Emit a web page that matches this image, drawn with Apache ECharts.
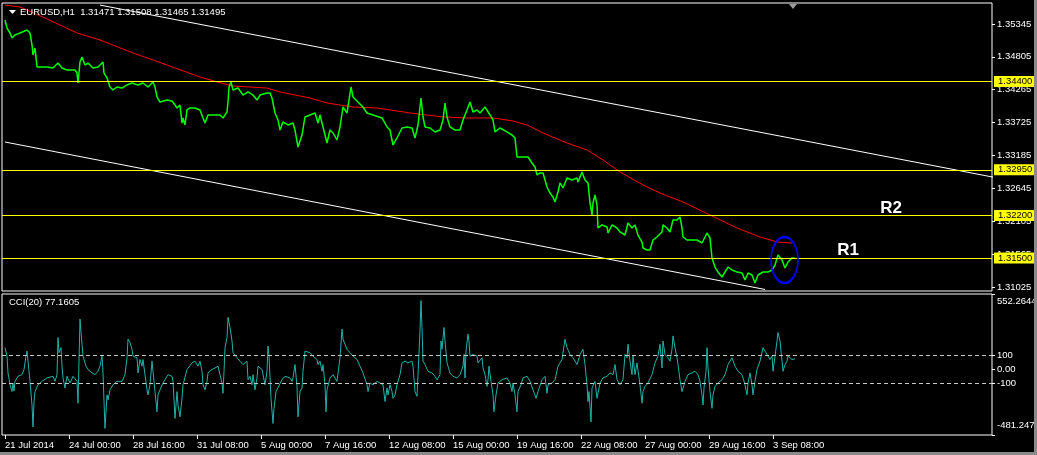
<!DOCTYPE html>
<html><head><meta charset="utf-8">
<script src="https://cdn.jsdelivr.net/npm/echarts@6/dist/echarts.min.js"></script>
<style>html,body{margin:0;padding:0;background:#000;}#c{width:1037px;height:455px;}</style>
</head><body><div id="c"></div><script>
// ---------- data ----------
const symbolName = 'EURUSD,H1';
const ohlc = [1.31471, 1.31508, 1.31465, 1.31495];
const cciName = 'CCI(20)';
const cciLast = 77.1605;
const timeLabels = ['21 Jul 2014','24 Jul 00:00','28 Jul 16:00','31 Jul 08:00','5 Aug 00:00','7 Aug 16:00','12 Aug 08:00','15 Aug 00:00','19 Aug 16:00','22 Aug 08:00','27 Aug 00:00','29 Aug 16:00','3 Sep 08:00'];
const barsPerTimeLabel = 64;
const priceTicks = [1.31025,1.31565,1.32105,1.32645,1.33185,1.33725,1.34265,1.34805,1.35345];
const priceRange = [1.30958, 1.35690];
const barRange = [-3, 987];
const cciTicks = [-481.2478,-100,0,100,552.2644];
const cciLevels = [100,-100];
const levels = [1.34400,1.32950,1.32200,1.31500];
const upperTrend = [[95,1.35656],[995,1.32807]];
const lowerTrend = [[0,1.33406],[760,1.30983]];
const highlight = [779.5,1.31467];
const notes = [{name:'R2', value:[886,1.32322]},{name:'R1', value:[843,1.31632]}];
// [bar index, close]
const close = [[0,1.35411],[2,1.35279],[5,1.35197],[7,1.35115],[10,1.35164],[15,1.35197],[22,1.35246],[25,1.35197],[27,1.35000],[28,1.34836],[30,1.34951],[32,1.34638],[35,1.34638],[42,1.34638],[48,1.34622],[53,1.34704],[57,1.34622],[62,1.34589],[70,1.34589],[72,1.34540],[73,1.34376],[75,1.34721],[77,1.34803],[80,1.34671],[83,1.34704],[88,1.34622],[93,1.34638],[98,1.34721],[99,1.34540],[102,1.34458],[105,1.34310],[108,1.34261],[112,1.34310],[117,1.34293],[122,1.34343],[127,1.34376],[133,1.34343],[138,1.34376],[143,1.34310],[148,1.34392],[150,1.34310],[152,1.34146],[155,1.34063],[162,1.34096],[167,1.34080],[170,1.34014],[172,1.33965],[175,1.34014],[177,1.33718],[178,1.33801],[180,1.33686],[182,1.33932],[185,1.33965],[190,1.33965],[195,1.33932],[198,1.33801],[200,1.33718],[203,1.33850],[208,1.33850],[215,1.33850],[218,1.33801],[222,1.33899],[223,1.34063],[224,1.34310],[226,1.34392],[228,1.34261],[233,1.34293],[238,1.34178],[243,1.34228],[248,1.34178],[252,1.34096],[255,1.34178],[262,1.34211],[265,1.34211],[267,1.34129],[270,1.33883],[273,1.33768],[275,1.33603],[278,1.33735],[283,1.33686],[288,1.33718],[290,1.33603],[293,1.33324],[297,1.33521],[300,1.33817],[305,1.33850],[310,1.33883],[313,1.33718],[315,1.33850],[318,1.33653],[322,1.33390],[325,1.33603],[328,1.33554],[332,1.33439],[335,1.33653],[338,1.33981],[342,1.33883],[344,1.34096],[346,1.34310],[348,1.34146],[353,1.34063],[358,1.33981],[362,1.33883],[368,1.33850],[377,1.33801],[382,1.33653],[385,1.33603],[388,1.33357],[392,1.33472],[397,1.33636],[402,1.33653],[407,1.33636],[410,1.33472],[413,1.33686],[416,1.34129],[418,1.33817],[420,1.33653],[425,1.33636],[430,1.33571],[435,1.33603],[438,1.33768],[440,1.34047],[442,1.33817],[445,1.33653],[450,1.33603],[455,1.33603],[458,1.33768],[462,1.33932],[465,1.34063],[468,1.33899],[472,1.33932],[475,1.33883],[480,1.33981],[485,1.33850],[488,1.33768],[490,1.33571],[495,1.33636],[502,1.33571],[507,1.33521],[510,1.33472],[512,1.33160],[515,1.33160],[523,1.33160],[527,1.33061],[530,1.32996],[532,1.32864],[535,1.32897],[538,1.32897],[542,1.32667],[545,1.32568],[548,1.32503],[550,1.32420],[553,1.32585],[555,1.32733],[558,1.32651],[562,1.32815],[567,1.32782],[572,1.32815],[573,1.32749],[577,1.32913],[580,1.32782],[583,1.32733],[585,1.32404],[587,1.32207],[588,1.32404],[590,1.32536],[592,1.32371],[593,1.31993],[597,1.32043],[602,1.32010],[603,1.31911],[607,1.32043],[612,1.31993],[615,1.31928],[620,1.31878],[623,1.32075],[627,1.31993],[630,1.32043],[633,1.31878],[637,1.31763],[638,1.31665],[642,1.31632],[645,1.31632],[648,1.31796],[652,1.31845],[657,1.31928],[658,1.32043],[662,1.31993],[665,1.31928],[668,1.32125],[672,1.32125],[675,1.32174],[677,1.31993],[678,1.31845],[682,1.31796],[687,1.31796],[692,1.31796],[697,1.31747],[698,1.31763],[702,1.31911],[705,1.31829],[707,1.31500],[710,1.31352],[713,1.31270],[717,1.31188],[720,1.31270],[723,1.31352],[727,1.31303],[732,1.31270],[737,1.31254],[740,1.31139],[743,1.31254],[747,1.31221],[750,1.31090],[753,1.31221],[758,1.31270],[763,1.31270],[767,1.31303],[770,1.31385],[773,1.31550],[777,1.31467],[780,1.31336],[783,1.31434],[787,1.31500],[790,1.31495]];
// [bar index, moving average]
const ma = [[0,1.35657],[15,1.35624],[40,1.35444],[72,1.35197],[95,1.35082],[128,1.34869],[162,1.34671],[195,1.34474],[212,1.34392],[228,1.34326],[262,1.34293],[275,1.34228],[305,1.34129],[322,1.34047],[348,1.33981],[372,1.33965],[405,1.33883],[438,1.33817],[462,1.33801],[488,1.33801],[508,1.33751],[522,1.33686],[538,1.33554],[562,1.33390],[582,1.33275],[598,1.33111],[615,1.32913],[638,1.32700],[655,1.32568],[678,1.32420],[705,1.32207],[732,1.31993],[755,1.31845],[772,1.31763],[787,1.31747]];
// [bar index, CCI]
const cci = [[0,159],[2,97],[3,-26],[5,-113],[7,-163],[8,-100],[9,-158],[10,-88],[13,-51],[17,-39],[19,-1],[21,97],[22,134],[23,60],[25,-88],[27,-261],[28,-422],[29,-236],[30,-163],[33,-113],[37,-88],[42,-63],[48,-51],[50,-88],[52,-39],[53,233],[54,122],[56,159],[57,23],[58,-63],[60,-137],[62,-51],[63,-39],[65,-100],[68,-51],[72,-88],[73,-248],[74,60],[75,369],[77,184],[78,97],[81,23],[83,-1],[87,-26],[90,-39],[93,-14],[95,23],[97,97],[98,-26],[99,-236],[100,-433],[102,-187],[103,-224],[105,-150],[108,-113],[112,-88],[117,-88],[120,-39],[122,85],[123,221],[125,196],[127,147],[128,97],[130,110],[132,85],[133,-26],[135,72],[137,23],[138,72],[140,-39],[142,-150],[143,-187],[145,-113],[147,60],[148,-14],[150,-163],[152,-311],[153,-187],[155,-150],[158,-100],[163,-39],[167,-51],[168,-88],[170,-360],[172,-163],[173,-261],[175,-348],[177,-212],[178,-113],[182,-1],[187,47],[190,60],[193,23],[195,60],[197,-14],[198,-113],[200,-150],[202,-88],[203,-26],[207,-1],[210,10],[213,23],[215,-39],[217,-100],[218,-175],[219,-14],[220,159],[222,233],[223,381],[225,307],[227,208],[228,122],[232,85],[235,60],[238,35],[240,23],[242,60],[243,-76],[245,-51],[247,-113],[248,-39],[250,-150],[252,-63],[253,23],[257,-1],[260,-113],[262,-14],[263,171],[264,97],[266,-212],[268,-397],[269,-286],[271,-163],[273,-150],[277,-76],[280,-51],[285,-63],[287,-88],[288,-63],[290,35],[292,-125],[293,-348],[295,-163],[297,-137],[298,-14],[300,134],[302,134],[305,122],[308,97],[312,72],[313,35],[315,60],[317,-14],[318,35],[320,-113],[321,-311],[322,-150],[325,-63],[328,-39],[332,-88],[335,85],[337,295],[338,221],[340,184],[342,147],[345,122],[348,97],[352,72],[355,23],[358,-26],[362,-113],[363,-163],[365,-100],[368,-113],[372,-88],[375,-100],[378,-113],[380,-236],[382,-137],[383,-187],[385,-113],[387,-163],[388,-212],[390,-187],[392,-113],[395,-39],[397,47],[400,60],[403,47],[407,60],[408,23],[410,-163],[412,-198],[413,-39],[415,282],[416,504],[417,307],[418,60],[420,35],[423,-14],[427,-26],[430,-51],[432,-76],[433,-63],[435,-39],[436,208],[437,147],[439,307],[440,208],[442,47],[445,-26],[448,-51],[452,-63],[455,-39],[458,23],[459,109],[460,-63],[461,134],[463,258],[464,208],[465,97],[468,109],[472,97],[473,47],[477,85],[478,10],[480,-39],[482,-125],[483,-76],[484,23],[486,-88],[488,-187],[489,-311],[491,-187],[493,-100],[497,-76],[502,-63],[505,-100],[507,-163],[508,-100],[510,-187],[512,-311],[513,-163],[516,-113],[518,-63],[522,-51],[525,-88],[528,-150],[531,-212],[533,-163],[537,-76],[540,-51],[542,-175],[543,-113],[547,-100],[550,-76],[553,23],[557,72],[560,221],[562,159],[565,109],[568,85],[572,35],[575,109],[578,147],[580,35],[582,-113],[583,-236],[584,-163],[586,-385],[587,-137],[590,-88],[592,-212],[595,-100],[598,-63],[602,-51],[605,-26],[608,-39],[610,35],[612,-76],[615,-113],[618,-76],[620,109],[622,85],[623,184],[625,60],[627,-39],[628,97],[630,-39],[632,47],[633,60],[635,-113],[637,-248],[638,-163],[640,-125],[643,-100],[647,-39],[650,47],[653,97],[655,184],[657,10],[658,208],[660,109],[662,122],[663,85],[665,60],[667,147],[668,245],[670,159],[672,85],[673,35],[675,-76],[677,-163],[678,-137],[680,-88],[683,-39],[687,-26],[690,-14],[693,-39],[695,-88],[697,-187],[698,-261],[699,-137],[701,-14],[702,159],[703,10],[705,-163],[707,-286],[708,-187],[710,-125],[713,-100],[717,-76],[720,-39],[723,35],[727,85],[728,97],[730,23],[733,-14],[737,-39],[738,-26],[740,-113],[742,-187],[743,-100],[745,-26],[747,-113],[748,-187],[750,-88],[752,-1],[755,60],[758,159],[762,109],[765,72],[767,97],[768,-14],[770,-26],[772,208],[773,270],[775,208],[777,60],[778,-14],[780,35],[782,60],[783,97],[785,85],[787,72],[790,77]];

// ---------- chart ----------
const FONT = 'Liberation Sans';
const FS = 9.5;
const chart = echarts.init(document.getElementById('c'), null, {renderer:'canvas'});
const timeTickValues = timeLabels.map((_, i) => i * barsPerTimeLabel);

const option = {
  backgroundColor: '#000',
  animation: false,
  textStyle: {fontFamily: FONT},
  grid: [
    {left: 2, top: 3, width: 990, height: 288, show: true, backgroundColor: '#000', borderColor: '#fff', borderWidth: 1, outerBoundsMode: 'none', containLabel: false},
    {left: 2, top: 294, width: 990, height: 141, show: true, backgroundColor: '#000', borderColor: '#fff', borderWidth: 1, outerBoundsMode: 'none', containLabel: false}
  ],
  xAxis: [
    {gridIndex: 0, type: 'value', min: barRange[0], max: barRange[1], show: false, axisLine: {onZero: false}},
    {gridIndex: 1, type: 'value', min: barRange[0], max: barRange[1], position: 'bottom',
      axisLine: {show: false, onZero: false}, splitLine: {show: false},
      axisTick: {show: true, length: 4, customValues: timeTickValues, lineStyle: {color: '#fff'}},
      axisLabel: {show: true, customValues: timeTickValues, color: '#fff', fontSize: FS, fontFamily: FONT, align: 'left', margin: 5,
        formatter: v => timeLabels[Math.round(v / barsPerTimeLabel)] || ''}}
  ],
  yAxis: [
    {gridIndex: 0, type: 'value', position: 'right', min: priceRange[0], max: priceRange[1],
      axisLine: {show: false, onZero: false}, splitLine: {show: false},
      axisTick: {show: true, length: 3, customValues: priceTicks, lineStyle: {color: '#fff'}},
      axisLabel: {show: true, customValues: priceTicks, color: '#fff', fontSize: FS, fontFamily: FONT, margin: 5,
        formatter: v => v.toFixed(5)}},
    {gridIndex: 1, type: 'value', position: 'right', min: cciTicks[0], max: cciTicks[cciTicks.length - 1],
      axisLine: {show: false, onZero: false}, splitLine: {show: false},
      axisTick: {show: true, length: 3, customValues: cciTicks, lineStyle: {color: '#fff'}},
      axisLabel: {show: true, customValues: cciTicks, color: '#fff', fontSize: FS, fontFamily: FONT, margin: 5,
        verticalAlignMaxLabel: 'top', verticalAlignMinLabel: 'bottom',
        formatter: v => {
          if (v === 0) return '0.00';
          if (Math.abs(v) === 100) return String(v);
          if (v < 0) return '{lo|' + v.toFixed(4) + '}';
          return '{hi|' + v.toFixed(4) + '}';
        },
        rich: {lo: {fontSize: FS, fontFamily: FONT, color: '#fff', padding: [0, 0, 5, 0]},
               hi: {fontSize: FS, fontFamily: FONT, color: '#fff', padding: [2, 0, 0, 0]}}}}
  ],
  series: [
    {name: 'MA', type: 'line', xAxisIndex: 0, yAxisIndex: 0, data: ma, showSymbol: false, symbol: 'none',
      lineStyle: {color: '#ff0000', width: 1}, z: 2, silent: true},
    {name: 'upperTrend', type: 'line', xAxisIndex: 0, yAxisIndex: 0, data: upperTrend, symbol: 'none',
      lineStyle: {color: '#ffffff', width: 1}, z: 2, silent: true},
    {name: 'lowerTrend', type: 'line', xAxisIndex: 0, yAxisIndex: 0, data: lowerTrend, symbol: 'none',
      lineStyle: {color: '#ffffff', width: 1}, z: 2, silent: true},
    {name: 'close', type: 'line', xAxisIndex: 0, yAxisIndex: 0, data: close, symbol: 'none',
      lineStyle: {color: '#00ff00', width: 1.5}, z: 3, silent: true,
      markLine: {silent: true, symbol: 'none', animation: false, precision: 5,
        lineStyle: {color: '#ffff00', type: 'solid', width: 1},
        label: {show: true, position: 'end', distance: 2, formatter: p => Number(p.value).toFixed(5),
          backgroundColor: '#ffff00', color: '#000', fontSize: FS, fontFamily: FONT, padding: [1, 4, 0, 4]},
        emphasis: {disabled: true},
        data: levels.map(v => ({yAxis: v}))},
      markPoint: {silent: true, symbol: 'circle', symbolSize: [27, 46], animation: false,
        itemStyle: {color: 'rgba(0,0,0,0)', borderColor: '#0000ff', borderWidth: 2},
        label: {show: false},
        data: [{coord: highlight}]}},
    {name: 'notes', type: 'scatter', xAxisIndex: 0, yAxisIndex: 0, data: notes, symbolSize: 1,
      itemStyle: {color: 'rgba(0,0,0,0)', opacity: 1}, silent: true, z: 5,
      label: {show: true, position: 'inside', formatter: '{b}', color: '#ffffff', opacity: 1, fontSize: 17, fontWeight: 'bold', fontFamily: FONT}},
    {name: 'CCI', type: 'line', xAxisIndex: 1, yAxisIndex: 1, data: cci, symbol: 'none',
      lineStyle: {color: '#20b2aa', width: 1}, z: 3, silent: true,
      markLine: {silent: true, symbol: 'none', animation: false,
        lineStyle: {color: '#c8c8c8', type: [4, 3], width: 1},
        label: {show: false}, emphasis: {disabled: true},
        data: cciLevels.map(v => ({yAxis: v}))}}
  ],
  graphic: [
    {type: 'polygon', z: 100, shape: {points: [[9, 10], [16, 10], [12.5, 14]]}, style: {fill: '#fff'}},
    {type: 'text', z: 100, x: 20, y: 12.5, style: {text: symbolName + '  ' + ohlc.map(v => v.toFixed(5)).join(' '),
      fill: '#fff', fontSize: FS, fontFamily: FONT, verticalAlign: 'middle'}},
    {type: 'text', z: 100, x: 9, y: 302.5, style: {text: cciName + ' ' + cciLast.toFixed(4),
      fill: '#fff', fontSize: FS, fontFamily: FONT, verticalAlign: 'middle'}},
    {type: 'polygon', z: 100, shape: {points: [[789, 4], [797, 4], [793, 9]]}, style: {fill: '#9a9a9a'}},
    {type: 'rect', z: 100, shape: {x: 1034, y: 0, width: 3, height: 455}, style: {fill: '#8a8a8a'}},
    {type: 'rect', z: 100, shape: {x: 0, y: 452, width: 1037, height: 3}, style: {fill: '#8a8a8a'}}
  ]
};
chart.setOption(option);
</script></body></html>
